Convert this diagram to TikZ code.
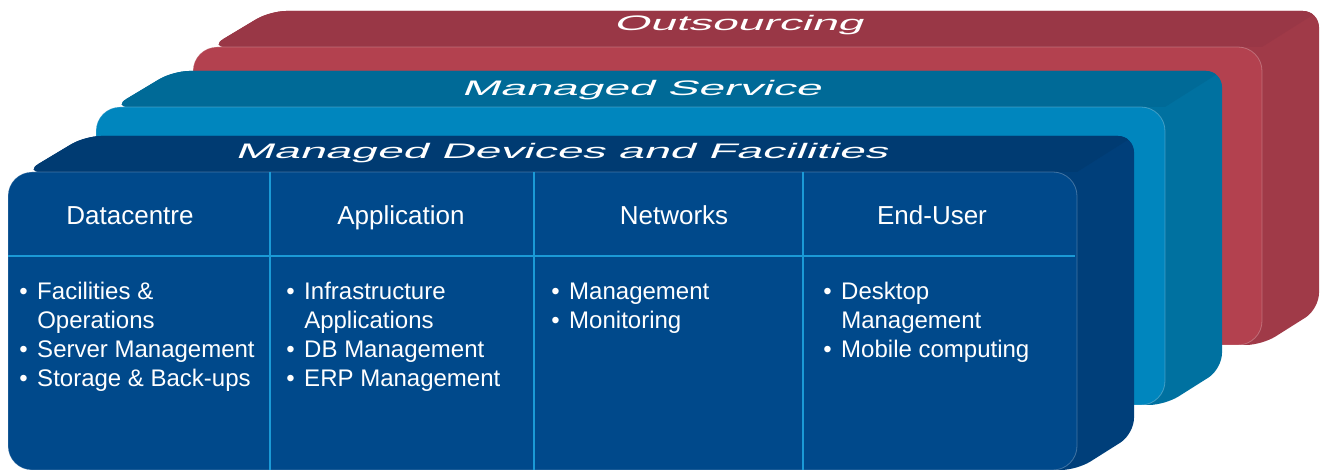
\documentclass[tikz,border=0pt]{standalone}
\usepackage{fontspec}
\setmainfont{Liberation Sans}
\newfontfamily\layerfont[FakeSlant=0.4,FakeStretch=2.2]{Liberation Sans}
\definecolor{redfront}{HTML}{B3414F}
\definecolor{redtop}{HTML}{993746}
\definecolor{redside}{HTML}{A03A48}
\definecolor{blufront}{HTML}{0086BE}
\definecolor{blutop}{HTML}{006A97}
\definecolor{bluside}{HTML}{0071A0}
\definecolor{navfront}{HTML}{00498B}
\definecolor{navtop}{HTML}{003B72}
\definecolor{navside}{HTML}{003F7A}
\definecolor{gridblue}{HTML}{1B9AD6}
\newcommand{\bul}{\makebox[13.5pt][l]{\textbullet}}
\newcommand{\nob}{\hspace*{13.5pt}}
\begin{document}
\begin{tikzpicture}[x=0.75pt,y=-0.75pt,
    layertitle/.style={text=white,anchor=base,inner sep=0pt,font=\layerfont\fontsize{15.75}{18}\selectfont},
    colhead/.style={text=white,anchor=base,inner sep=0pt,font=\fontsize{19.5}{23}\selectfont},
    itemlist/.style={text=white,anchor=base west,inner sep=0pt},
    gridline/.style={gridblue,line width=1.5pt}]
  \useasboundingbox (0,0) rectangle (1322,470);
  % three layers, back to front: x of front face, y of its top edge, colours
  \foreach \x/\y/\front/\top/\side in {193/47/redfront/redtop/redside,
      96/107/blufront/blutop/bluside, 8/172/navfront/navtop/navside} {
    \fill[\side,rounded corners=12pt] (\x+17,\y) -- (\x+77,\y-36) -- (\x+1126,\y-36)
      -- (\x+1126,\y+262) -- (\x+1069,\y+298) -- (\x+1029,\y+298) -- (\x+1029,\y) -- cycle;
    \begin{scope}
      \clip[rounded corners=12pt] (\x+17,\y) -- (\x+77,\y-36) -- (\x+1126,\y-36)
        -- (\x+1126,\y+262) -- (\x+1069,\y+298) -- (\x+1029,\y+298) -- (\x+1029,\y) -- cycle;
      \fill[\top] (\x,\y) -- (\x+60,\y-36) -- (\x+1126,\y-36) -- (\x+1069,\y) -- cycle;
    \end{scope}
    \fill[\front,rounded corners=18pt] (\x,\y) rectangle (\x+1069,\y+298);
    \draw[white,opacity=0.25,line width=0.6pt,rounded corners=18pt] (\x,\y) rectangle (\x+1069,\y+298);
  }
  \node[layertitle] (outsrc) at (738,31) {Outsourcing};
  \node[layertitle] (mgdsvc) at (641,96) {Managed Service};
  \node[layertitle] (mgddev) at (561,159) {Managed Devices and Facilities};
  % table on the front face
  \draw[gridline] (8,256) -- (1075,256);
  \draw[gridline] (270,172) -- (270,470);
  \draw[gridline] (534,172) -- (534,470);
  \draw[gridline] (803,172) -- (803,470);
  \node[colhead] (dchead) at (130,225) {Datacentre};
  \node[colhead] (aphead) at (401,225) {Application};
  \node[colhead] (nwhead) at (674,225) {Networks};
  \node[colhead] (euhead) at (932,225) {End-User};
  \node[itemlist] (dcitems) at (19,300) {\parbox[t]{250pt}{\fontsize{18}{21.75}\selectfont
    \bul Facilities \&\\ \nob Operations\\ \bul Server Management\\ \bul Storage \& Back-ups}};
  \node[itemlist] (apitems) at (286,300) {\parbox[t]{250pt}{\fontsize{18}{21.75}\selectfont
    \bul Infrastructure\\ \nob Applications\\ \bul DB Management\\ \bul ERP Management}};
  \node[itemlist] (nwitems) at (551,300) {\parbox[t]{250pt}{\fontsize{18}{21.75}\selectfont
    \bul Management\\ \bul Monitoring}};
  \node[itemlist] (euitems) at (823,300) {\parbox[t]{250pt}{\fontsize{18}{21.75}\selectfont
    \bul Desktop\\ \nob Management\\ \bul Mobile computing}};
\end{tikzpicture}
\end{document}
